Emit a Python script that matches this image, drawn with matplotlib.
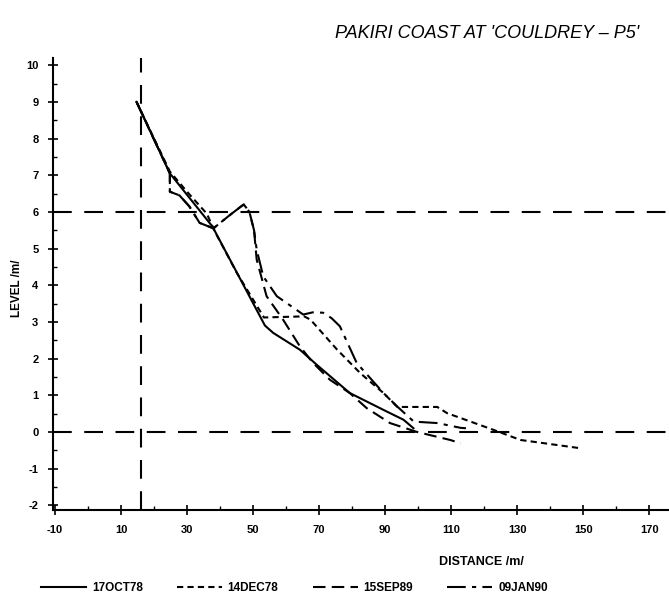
import matplotlib
matplotlib.use("Agg")
import matplotlib.pyplot as plt
from matplotlib.ticker import MultipleLocator, FixedLocator

# ---- data ----
oct78_x = [14.7, 24.8, 37.7, 53.6, 56.1, 64.2, 69.3, 79.3, 89.5, 95.6, 98.6]
oct78_y = [9.0, 7.05, 5.6, 2.9, 2.7, 2.24, 1.83, 1.06, 0.6, 0.33, 0.1]

dec78_x = [14.7, 24.8, 30.0, 36.0, 38.5, 45.0, 53.3, 65.5, 67.4, 75.5, 82.5, 89.5,
           93.7, 105.8, 108.8, 123.0, 131.0, 149.5]
dec78_y = [9.0, 7.1, 6.55, 5.95, 5.45, 4.35, 3.12, 3.15, 3.06, 2.24, 1.6, 1.06,
           0.68, 0.68, 0.51, 0.05, -0.22, -0.45]

sep89_x = [14.7, 24.8, 24.8, 27.7, 30.7, 33.8, 38.0, 42.8, 46.4, 47.2, 48.9, 50.3,
           51.1, 54.1, 59.1, 64.2, 68.2, 73.3, 79.3, 84.4, 91.5, 99.6, 109.7, 112.9]
sep89_y = [9.0, 7.05, 6.55, 6.45, 6.15, 5.7, 5.55, 5.9, 6.15, 6.2, 6.0, 5.5,
           4.7, 3.7, 3.06, 2.33, 1.88, 1.42, 1.06, 0.65, 0.24, 0.0, -0.22, -0.31]

jan90_x = [14.7, 24.8, 24.8, 27.7, 30.7, 33.8, 38.0, 42.8, 46.4, 47.2, 48.9, 50.3,
           51.1, 53.1, 57.2, 65.2, 68.1, 71.2, 73.8, 76.3, 81.4, 89.5, 93.7, 98.7,
           105.9, 112.9, 114.5]
jan90_y = [9.0, 7.05, 6.55, 6.45, 6.15, 5.7, 5.55, 5.9, 6.15, 6.2, 6.0, 5.5,
           4.97, 4.24, 3.7, 3.2, 3.26, 3.25, 3.1, 2.88, 1.88, 1.06, 0.69, 0.28,
           0.24, 0.11, 0.1]

labels = ["17OCT78", "14DEC78", "15SEP89", "09JAN90"]
ref_levels = [6, 0]
ref_distance = 16.2
x_ticks = [-10, 10, 30, 50, 70, 90, 110, 130, 150, 170]
y_ticks = list(range(-2, 11))

plt.rcParams['font.family'] = ['Liberation Sans', 'DejaVu Sans']

fig = plt.figure(figsize=(6.69, 6.0), dpi=100)
ax = fig.add_axes([0.0792, 0.15, 0.9208, 0.753])
ax.set_xlim(-10.6, 176)
ax.set_ylim(-2.13, 10.19)

# reference lines
for lv in ref_levels:
    ax.axhline(lv, color='black', lw=1.5, linestyle=(0, (9, 6)))
ax.axvline(ref_distance, color='black', lw=1.5, linestyle=(0, (9, 6)))

styles = ['-', (0, (3, 2)), (0, (6, 3)), (0, (9, 3, 2, 3))]
series = [(oct78_x, oct78_y), (dec78_x, dec78_y), (sep89_x, sep89_y), (jan90_x, jan90_y)]
handles = []
for (xs, ys), ls, lab in zip(series, styles, labels):
    h, = ax.plot(xs, ys, color='black', lw=1.5, linestyle=ls, label=lab)
    handles.append(h)

for s in ['top', 'right']:
    ax.spines[s].set_visible(False)
for s in ['left', 'bottom']:
    ax.spines[s].set_linewidth(1.5)

ax.xaxis.set_major_locator(FixedLocator(x_ticks))
ax.xaxis.set_minor_locator(FixedLocator([t + 10 for t in x_ticks[:-1]]))
ax.yaxis.set_major_locator(FixedLocator(y_ticks))
ax.yaxis.set_minor_locator(MultipleLocator(0.5))
ax.set_xticklabels([str(t) for t in x_ticks])
ax.set_yticklabels([str(t) for t in y_ticks])
ax.tick_params(which='major', direction='inout', length=7, width=1.2,
               labelsize=8, pad=7)
ax.tick_params(which='minor', direction='in', length=3, width=1)
for lab in ax.get_xticklabels() + ax.get_yticklabels():
    lab.set_fontweight('bold')

fig.text(0.0255, 0.52, "LEVEL /m/", rotation=90, ha='center', va='center',
         fontsize=8.5, fontweight='bold')
fig.text(0.72, 0.063, "DISTANCE /m/", ha='center', va='center',
         fontsize=9, fontweight='bold')
fig.text(0.728, 0.945, "PAKIRI COAST AT 'COULDREY \u2013 P5'", ha='center',
         va='center', fontsize=13, style='italic')

leg = fig.legend(handles=handles, labels=labels, loc='center',
                 bbox_to_anchor=(0.44, 0.02), ncol=4, frameon=False,
                 handlelength=3.8, columnspacing=2.9, handletextpad=0.5,
                 prop={'size': 8.5, 'weight': 'bold'})

fig.savefig("out.png", dpi=100)
